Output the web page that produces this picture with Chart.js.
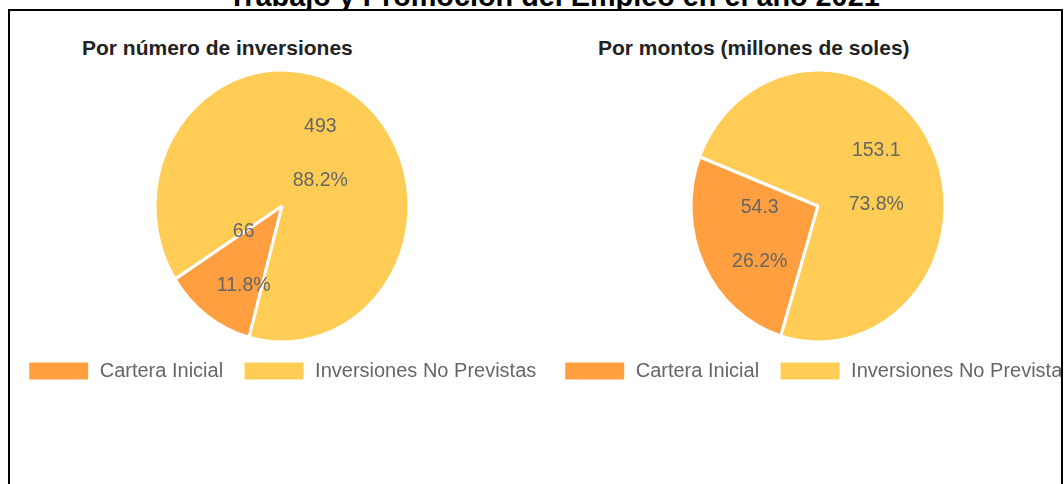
<!DOCTYPE html>
<html><head><meta charset="utf-8">
<script src="https://cdn.jsdelivr.net/npm/chart.js@4/dist/chart.umd.min.js"></script>
<style>
html,body{margin:0;padding:0;background:#fff;width:1064px;height:484px;overflow:hidden;position:relative;font-family:"Liberation Sans",Arial,sans-serif;}
#title{position:absolute;left:0;width:1108px;text-align:center;top:-18px;font-weight:bold;font-size:28.8px;line-height:28.8px;color:#000;white-space:nowrap;}
#frame{position:absolute;left:8px;top:9px;width:1051px;height:600px;border:2px solid #000;overflow:hidden;background:#fff;}
.sub{position:absolute;font-weight:bold;font-size:21px;line-height:21px;color:#222;white-space:nowrap;}
.wrap{position:absolute;top:0;width:560px;height:380px;}
</style>
</head><body>
<div id="title">Trabajo y Promoción del Empleo en el año 2021</div>
<div id="frame">
  <div class="sub" style="left:72px;top:26px;">Por número de inversiones</div>
  <div class="sub" style="left:588px;top:26px;">Por montos (millones de soles)</div>
  <div class="wrap" style="left:-8px;"><canvas id="c1" width="560" height="380"></canvas></div>
  <div class="wrap" style="left:528px;"><canvas id="c2" width="560" height="380"></canvas></div>
</div>
<script>
const categories = ['Cartera Inicial', 'Inversiones No Previstas'];
const countValues = [66, 493];
const amountValues = [54.3, 153.1];
const countLabels = ['66', '493'];
const amountLabels = ['54.3', '153.1'];
const sliceColors = ['rgb(255,159,64)', 'rgb(255,205,86)'];

const FONT = '"Liberation Sans", Arial, sans-serif';
const SY = 1.071;

const stretchPlugin = {
  id: 'stretch',
  beforeDatasetsDraw(chart) {
    const a = chart.getDatasetMeta(0).data[0];
    const ctx = chart.ctx;
    ctx.save();
    ctx.translate(a.x, a.y);
    ctx.scale(1, SY);
    ctx.translate(-a.x, -a.y);
  },
  afterDatasetsDraw(chart) { chart.ctx.restore(); }
};

function labelPlugin(texts) {
  return {
    id: 'sliceLabels',
    afterDraw(chart) {
      const ctx = chart.ctx;
      const meta = chart.getDatasetMeta(0);
      const data = chart.data.datasets[0].data;
      const total = data.reduce((s, v) => s + v, 0);
      ctx.save();
      ctx.fillStyle = '#666';
      ctx.font = '19.5px ' + FONT;
      ctx.textAlign = 'center';
      ctx.textBaseline = 'middle';
      meta.data.forEach((arc, i) => {
        const p = arc.getProps(['x', 'y', 'startAngle', 'endAngle', 'outerRadius'], true);
        const mid = (p.startAngle + p.endAngle) / 2;
        const rr = p.outerRadius * 0.51;
        const x = p.x + Math.cos(mid) * rr;
        const y = p.y + Math.sin(mid) * rr;
        ctx.fillText(texts[i], x, y - 27);
        ctx.fillText((data[i] / total * 100).toFixed(1) + '%', x, y + 27);
      });
      ctx.restore();
    }
  };
}

function makeChart(id, values, texts, rotation) {
  return new Chart(document.getElementById(id), {
    type: 'pie',
    data: {
      labels: categories,
      datasets: [{
        data: values,
        backgroundColor: sliceColors,
        borderColor: '#fff',
        borderWidth: 3,
        radius: 127,
        clip: false
      }]
    },
    options: {
      responsive: false,
      animation: false,
      rotation: rotation,
      layout: { padding: { top: 60, bottom: 0, left: 0, right: 0 } },
      plugins: {
        legend: {
          position: 'bottom',
          labels: {
            boxWidth: 62, boxHeight: 20, padding: 20, color: '#666',
            font: { family: FONT, size: 20 }
          }
        },
        tooltip: { enabled: false },
        title: { display: false }
      }
    },
    plugins: [stretchPlugin, labelPlugin(texts)]
  });
}

makeChart('c1', countValues, countLabels, 195);
makeChart('c2', amountValues, amountLabels, 197);
</script>
</body></html>
